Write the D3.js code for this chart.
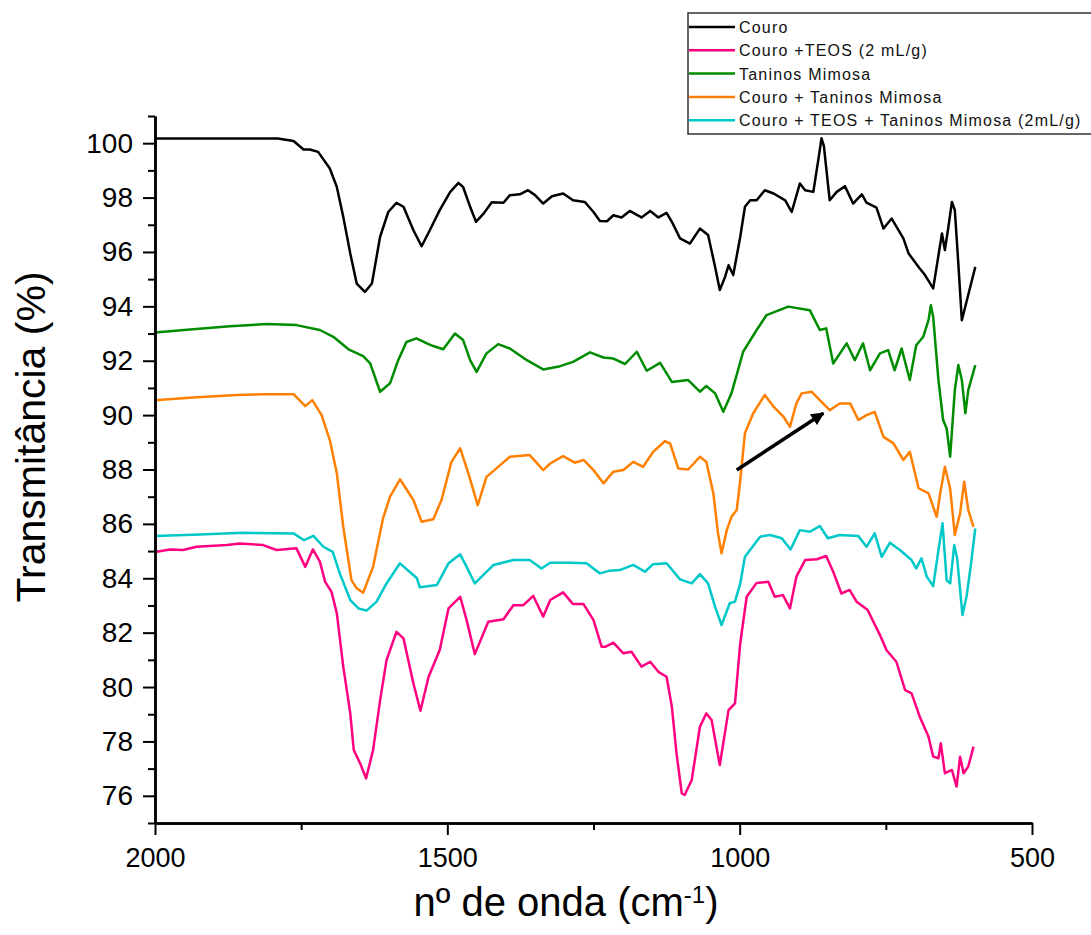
<!DOCTYPE html>
<html>
<head>
<meta charset="utf-8">
<script src="https://cdn.jsdelivr.net/npm/d3@7"></script>
<style>
  body { margin: 0; background: #fff; }
  svg { display: block; font-family: "Liberation Sans", Arial, sans-serif; }
</style>
</head>
<body>
<div id="chart"></div>
<script>
// series: [wavenumber (cm-1), transmittance (%)]
var couro = [[2000,100.17],[1790,100.17],[1763,100.08],[1746,99.77],[1735,99.77],[1721,99.68],[1701,99.07],[1689,98.39],[1678,97.29],[1666,95.94],[1655,94.84],[1641,94.53],[1629,94.84],[1615,96.56],[1601,97.47],[1587,97.81],[1575,97.66],[1558,96.8],[1544,96.21],[1530,96.8],[1513,97.54],[1495,98.21],[1481,98.54],[1473,98.39],[1461,97.66],[1451,97.11],[1438,97.41],[1424,97.83],[1404,97.81],[1393,98.09],[1376,98.12],[1362,98.27],[1350,98.09],[1336,97.78],[1321,98.05],[1302,98.15],[1285,97.9],[1265,97.84],[1250,97.47],[1239,97.14],[1227,97.13],[1216,97.35],[1202,97.27],[1188,97.51],[1168,97.27],[1153,97.51],[1139,97.27],[1125,97.44],[1116,97.11],[1102,96.5],[1085,96.31],[1068,96.86],[1054,96.62],[1042,95.45],[1034,94.6],[1025,95.08],[1019,95.51],[1011,95.15],[999,96.56],[991,97.66],[982,97.9],[971,97.9],[957,98.27],[942,98.15],[922,97.9],[911,97.47],[897,98.52],[888,98.27],[874,98.21],[864,99.6],[860,100.18],[856,99.9],[846,97.9],[834,98.21],[820,98.42],[806,97.78],[791,98.12],[783,97.81],[766,97.63],[754,96.86],[740,97.23],[720,96.5],[711,95.94],[692,95.39],[683,95.15],[669,94.66],[654,96.68],[649,96.07],[643,96.92],[637,97.84],[632,97.54],[626,95.57],[620,93.49],[612,94.17],[597,95.45]];

var couroTeos = [[2000,84.97],[1974,85.06],[1952,85.04],[1929,85.16],[1877,85.22],[1855,85.28],[1815,85.22],[1792,85.04],[1758,85.1],[1743,84.42],[1730,85.06],[1718,84.61],[1709,83.87],[1698,83.5],[1689,82.71],[1678,80.75],[1666,79.03],[1660,77.68],[1649,77.19],[1639,76.64],[1627,77.68],[1615,79.51],[1604,80.99],[1587,82.03],[1575,81.79],[1558,80.13],[1546,79.13],[1532,80.38],[1513,81.36],[1498,82.89],[1478,83.32],[1467,82.46],[1453,81.21],[1430,82.4],[1404,82.49],[1387,83.01],[1370,83.01],[1353,83.35],[1336,82.59],[1324,83.2],[1302,83.48],[1285,83.05],[1267,83.05],[1250,82.46],[1236,81.48],[1230,81.48],[1216,81.63],[1199,81.24],[1185,81.3],[1168,80.75],[1153,80.93],[1139,80.56],[1125,80.38],[1116,79.28],[1108,77.56],[1099,76.09],[1094,76.03],[1082,76.58],[1068,78.54],[1057,79.03],[1048,78.79],[1034,77.13],[1019,79.15],[1008,79.4],[999,81.61],[988,83.32],[971,83.83],[951,83.87],[940,83.32],[926,83.38],[914,82.89],[903,84.06],[888,84.67],[868,84.7],[852,84.82],[840,84.24],[826,83.44],[812,83.57],[800,83.14],[781,82.83],[760,81.91],[749,81.36],[732,80.93],[717,79.89],[706,79.77],[692,78.91],[677,78.17],[669,77.44],[660,77.38],[656,77.93],[649,76.83],[637,76.95],[629,76.34],[623,77.44],[617,76.83],[609,77.08],[600,77.81]];

var taninos = [[2000,93.04],[1940,93.15],[1872,93.27],[1809,93.35],[1758,93.31],[1718,93.13],[1695,92.88],[1669,92.42],[1644,92.17],[1632,91.9],[1615,90.86],[1598,91.17],[1584,92.02],[1570,92.69],[1553,92.82],[1535,92.64],[1524,92.54],[1507,92.42],[1487,93.0],[1473,92.76],[1461,92.02],[1450,91.59],[1433,92.27],[1413,92.61],[1393,92.45],[1364,92.02],[1336,91.68],[1307,91.8],[1285,91.96],[1256,92.31],[1233,92.12],[1216,92.08],[1196,91.88],[1176,92.33],[1159,91.63],[1136,91.92],[1116,91.22],[1088,91.29],[1068,90.86],[1057,91.07],[1042,90.8],[1028,90.12],[1014,90.8],[994,92.33],[971,93.13],[954,93.68],[917,93.99],[880,93.86],[863,93.13],[852,93.19],[840,91.9],[817,92.64],[803,92.02],[789,92.64],[777,91.65],[760,92.27],[746,92.39],[735,91.65],[723,92.45],[709,91.29],[698,92.57],[686,92.88],[677,93.49],[673,94.04],[669,93.61],[660,91.29],[652,89.82],[646,89.51],[640,88.47],[632,90.92],[626,91.84],[620,91.29],[614,90.07],[609,90.92],[597,91.84]];

var couroTaninos = [[2000,90.55],[1935,90.65],[1860,90.74],[1815,90.77],[1763,90.77],[1743,90.33],[1731,90.55],[1715,90.0],[1701,89.08],[1689,87.86],[1678,85.89],[1664,83.93],[1655,83.63],[1644,83.47],[1627,84.42],[1610,86.2],[1598,87.0],[1581,87.64],[1558,86.88],[1544,86.08],[1524,86.17],[1510,86.88],[1493,88.28],[1478,88.78],[1464,87.86],[1448,86.69],[1433,87.73],[1416,88.04],[1393,88.47],[1359,88.53],[1336,87.98],[1324,88.22],[1302,88.49],[1282,88.25],[1267,88.35],[1250,87.98],[1233,87.49],[1216,87.92],[1199,87.98],[1182,88.28],[1165,88.1],[1148,88.65],[1128,89.04],[1119,88.96],[1105,88.04],[1088,88.0],[1068,88.47],[1057,88.28],[1045,87.12],[1037,85.65],[1031,84.92],[1022,85.77],[1014,86.26],[1005,86.51],[999,87.61],[991,89.33],[977,90.06],[957,90.74],[942,90.31],[925,89.94],[914,89.57],[903,90.43],[894,90.8],[877,90.86],[863,90.55],[846,90.18],[829,90.43],[811,90.43],[797,89.82],[783,90.0],[769,90.12],[754,89.2],[737,88.96],[720,88.35],[709,88.65],[694,87.31],[677,87.12],[663,86.26],[657,87.12],[649,88.1],[640,87.31],[632,85.59],[623,86.39],[616,87.55],[609,86.51],[600,85.89]];

var couroTeosTaninos = [[2000,85.55],[1923,85.61],[1849,85.67],[1763,85.65],[1745,85.4],[1729,85.56],[1712,85.16],[1696,84.97],[1684,84.18],[1666,83.2],[1652,82.89],[1638,82.81],[1621,83.14],[1604,83.81],[1581,84.55],[1552,84.0],[1547,83.67],[1518,83.75],[1498,84.55],[1478,84.88],[1467,84.42],[1453,83.81],[1421,84.49],[1387,84.67],[1359,84.67],[1339,84.36],[1324,84.57],[1290,84.57],[1262,84.55],[1239,84.18],[1222,84.28],[1205,84.3],[1182,84.49],[1162,84.24],[1148,84.52],[1125,84.55],[1102,83.96],[1082,83.81],[1068,84.15],[1054,83.81],[1042,82.95],[1031,82.28],[1017,83.08],[1008,83.14],[999,83.81],[991,84.79],[965,85.53],[948,85.59],[928,85.47],[913,85.06],[897,85.77],[880,85.71],[863,85.92],[849,85.47],[829,85.59],[797,85.55],[783,85.16],[769,85.65],[757,84.79],[743,85.31],[726,85.04],[706,84.67],[698,84.36],[689,84.73],[680,84.06],[669,83.71],[660,85.04],[653,86.02],[646,83.93],[640,83.81],[633,85.22],[628,84.73],[619,82.65],[612,83.32],[605,84.42],[597,85.83]];

var seriesNames = ['Couro', 'Couro +TEOS (2 mL/g)', 'Taninos Mimosa', 'Couro + Taninos Mimosa', 'Couro + TEOS + Taninos Mimosa (2mL/g)'];
var seriesData = [couro, couroTeos, taninos, couroTaninos, couroTeosTaninos];
var seriesColors = ['#000000', '#ff0080', '#008c00', '#ff8000', '#00c8c8'];

var xTicks = [2000, 1500, 1000, 500];
var xMinorTicks = [1750, 1250, 750];
var yTicks = [76, 78, 80, 82, 84, 86, 88, 90, 92, 94, 96, 98, 100];
var yMinorTicks = [75, 77, 79, 81, 83, 85, 87, 89, 91, 93, 95, 97, 99, 101];

// arrow annotation, [wavenumber, %T] from -> to
var arrowFrom = [1005, 87.98];
var arrowTo = [857, 90.07];

// params
var width = 1091;
var height = 935;
var margin = { left: 155, right: 59, top: 116, bottom: 112 };

var svg = d3.select('#chart').append('svg')
  .attr('width', width)
  .attr('height', height);

var x = d3.scaleLinear().domain([2000, 500]).range([margin.left, width - margin.right]);
var y = d3.scaleLinear().domain([75, 101]).range([height - margin.bottom, margin.top]);

// curves
var line = d3.line()
  .x(d => x(d[0]))
  .y(d => y(d[1]));

svg.append('g')
  .selectAll('path')
  .data(seriesData)
  .enter()
  .append('path')
  .attr('d', line)
  .attr('fill', 'none')
  .attr('stroke', (d, i) => seriesColors[i])
  .attr('stroke-width', 2.5)
  .attr('stroke-linejoin', 'round');

// axes
function styleAxis(g) {
  g.select('.domain').attr('stroke', '#000').attr('stroke-width', 2.5);
  g.selectAll('.tick line').attr('stroke', '#000').attr('stroke-width', 2);
}

var xAxisY = y(75);
svg.append('g')
  .attr('transform', `translate(0, ${xAxisY})`)
  .call(d3.axisBottom(x).tickValues(xMinorTicks).tickSize(7).tickSizeOuter(0).tickFormat(''))
  .call(styleAxis);
svg.append('g')
  .attr('transform', `translate(0, ${xAxisY})`)
  .call(d3.axisBottom(x).tickValues(xTicks).tickSize(12).tickSizeOuter(0).tickPadding(13).tickFormat(d3.format('d')))
  .call(styleAxis)
  .call(g => g.selectAll('text')
    .attr('fill', '#000')
    .style('font-size', '27px')
    .style('font-family', '"Liberation Sans", Arial, sans-serif'));

var yAxisX = x(2000);
svg.append('g')
  .attr('transform', `translate(${yAxisX}, 0)`)
  .call(d3.axisLeft(y).tickValues(yMinorTicks).tickSize(7).tickSizeOuter(0).tickFormat(''))
  .call(styleAxis);
svg.append('g')
  .attr('transform', `translate(${yAxisX}, 0)`)
  .call(d3.axisLeft(y).tickValues(yTicks).tickSize(12).tickSizeOuter(0).tickPadding(10))
  .call(styleAxis)
  .call(g => g.selectAll('text')
    .attr('fill', '#000')
    .style('font-size', '28px')
    .style('font-family', '"Liberation Sans", Arial, sans-serif'));

// axis titles
svg.append('text')
  .attr('transform', 'translate(45, 437) rotate(-90)')
  .attr('text-anchor', 'middle')
  .style('font-size', '41px')
  .attr('fill', '#000')
  .text('Transmitância (%)');

var xTitle = svg.append('text')
  .attr('x', 566)
  .attr('y', 916)
  .attr('text-anchor', 'middle')
  .style('font-size', '40px')
  .attr('fill', '#000');
xTitle.append('tspan').text('nº de onda (cm');
xTitle.append('tspan').attr('baseline-shift', 'super').style('font-size', '24px').text('-1');
xTitle.append('tspan').text(')');

// arrow
svg.append('defs').append('marker')
  .attr('id', 'arrowhead')
  .attr('viewBox', '0 0 10 10')
  .attr('refX', 9)
  .attr('refY', 5)
  .attr('markerUnits', 'userSpaceOnUse')
  .attr('markerWidth', 16)
  .attr('markerHeight', 13)
  .attr('orient', 'auto')
  .append('path')
  .attr('d', 'M0,0L10,5L0,10z')
  .attr('fill', '#000');

svg.append('line')
  .attr('x1', x(arrowFrom[0]))
  .attr('y1', y(arrowFrom[1]))
  .attr('x2', x(arrowTo[0]))
  .attr('y2', y(arrowTo[1]))
  .attr('stroke', '#000')
  .attr('stroke-width', 3.5)
  .attr('marker-end', 'url(#arrowhead)');

// legend
var legend = svg.append('g').attr('transform', 'translate(688, 13)');
legend.append('rect')
  .attr('x', 0)
  .attr('y', 0)
  .attr('width', 420)
  .attr('height', 121)
  .attr('fill', '#fff')
  .attr('stroke', '#333')
  .attr('stroke-width', 1.5);

var rows = legend.selectAll('g.row')
  .data(seriesNames)
  .enter()
  .append('g')
  .attr('class', 'row')
  .attr('transform', (d, i) => `translate(0, ${14 + i * 23.3})`);
rows.append('line')
  .attr('x1', 1)
  .attr('x2', 47)
  .attr('stroke', (d, i) => seriesColors[i])
  .attr('stroke-width', 2.5);
rows.append('text')
  .attr('x', 51)
  .attr('y', 6)
  .style('font-size', '16px')
  .style('letter-spacing', '1.2px')
  .attr('fill', '#111')
  .text(d => d);
</script>
</body>
</html>
